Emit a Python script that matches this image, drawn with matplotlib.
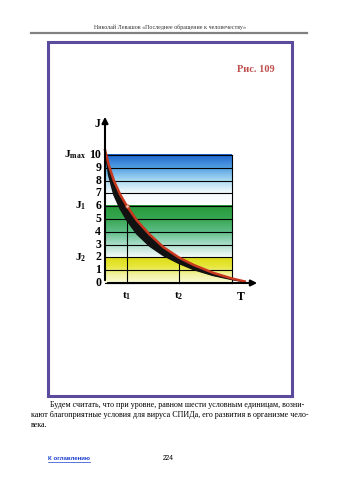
import numpy as np
import matplotlib.pyplot as plt
from matplotlib.patches import Rectangle
from matplotlib.lines import Line2D
from matplotlib.colors import LinearSegmentedColormap

plt.rcParams['mathtext.fontset'] = 'custom'
plt.rcParams['mathtext.rm'] = 'Liberation Serif'
plt.rcParams['mathtext.bf'] = 'Liberation Serif:bold'

# levels on the J axis
levels = list(range(0, 11))
t1, t2 = 1.73, 5.8
J1, J2 = 6, 2

# curve (upper red edge and lower black edge)
curve_x = [0.0, 0.3, 0.7, 1.2, 1.73, 2.5, 3.5, 4.6, 5.8, 7.0, 8.5, 10.0, 11.0]
curve_red = [10.4, 9.2, 8.0, 6.9, 6.0, 4.9, 3.8, 2.8, 2.0, 1.4, 0.8, 0.35, 0.12]
curve_blk = [10.4, 8.4, 6.9, 5.8, 4.9, 3.85, 2.9, 2.15, 1.55, 1.05, 0.6, 0.28, 0.1]

# colour bands: (bottom, top, colours from bottom to top)
bands = [
    (6, 10, ['#ffffff', '#f4fafd', '#a8d8f0', '#4f9ee2', '#1d62cc']),
    (2, 6, ['#f4faf8', '#a8dcc8', '#5cbc84', '#35a550', '#2a9a3c']),
    (0, 2, ['#fbfbd8', '#f2f2a0', '#e6e636', '#dcdc18']),
]

W, H = 339, 480
fig = plt.figure(figsize=(W / 100, H / 100), dpi=100)
fig.patch.set_facecolor('white')


def fx(px):
    return px / W


def fy(py):
    return 1 - py / H


serif = 'Liberation Serif'

# page header
fig.text(fx(170), fy(27), 'Николай Левашов «Последнее обращение к человечеству»',
         ha='center', va='center', fontsize=4.3, family=serif, color='#333333')
fig.add_artist(Line2D([fx(31), fx(307)], [fy(33), fy(33)], color='#808080', lw=1.6))

# purple frame
fig.add_artist(Rectangle((fx(48), fy(396)), fx(292) - fx(48), fy(42) - fy(396),
                         transform=fig.transFigure, fill=False,
                         edgecolor='#5c4b9c', lw=2.2))
fig.text(fx(275), fy(70), 'Рис. 109', ha='right', va='center', fontsize=7.5,
         family=serif, weight='bold', color='#c0504d')

# chart axes: x_px = 105 + 12.7*x, y_px = 283 - 12.8*y
x0, y0, sx, sy = 105, 283, 12.7, 12.8
xl, yl = (-4.5, 12.5), (-1.5, 13.5)
left = fx(x0 + sx * xl[0])
bottom = fy(y0 - sy * yl[0])
ax = fig.add_axes([left, bottom, fx(sx * (xl[1] - xl[0])), (sy * (yl[1] - yl[0])) / H])
ax.set_xlim(*xl)
ax.set_ylim(*yl)
ax.axis('off')

for lo, hi, cols in bands:
    cmap = LinearSegmentedColormap.from_list('b', cols)
    grad = np.linspace(0, 1, 200).reshape(-1, 1)
    ax.imshow(grad, cmap=cmap, extent=(0, 10, lo, hi), origin='lower',
              aspect='auto', zorder=0)

for lv in levels:
    ax.plot([0, 10], [lv, lv], color='black', lw=0.8, zorder=1)
    ax.text(-0.3, lv, str(lv), ha='right', va='center', fontsize=8.5,
            family=serif, weight='bold')
ax.plot([10, 10], [0, 10], color='black', lw=0.8, zorder=1)
ax.plot([t1, t1], [0, J1], color='black', lw=0.8, zorder=1)
ax.plot([t2, t2], [0, J2], color='black', lw=0.8, zorder=1)

# curve
ax.fill_between(curve_x, curve_blk, curve_red, color='#111111', zorder=3, lw=0)
ax.plot(curve_x, curve_blk, color='#111111', lw=1.2, zorder=3)
ax.plot(curve_x, curve_red, color='#c8381e', lw=1.8, zorder=4)
ax.plot([t1], [J1], 'o', ms=2.5, mfc='#f0c0b0', mec='#c8381e', mew=0.5, zorder=5)

# axes arrows
arrow = dict(arrowstyle='-|>', lw=1.5, color='black', mutation_scale=9)
ax.annotate('', xy=(0, 13.2), xytext=(0, 0), arrowprops=arrow, zorder=6)
ax.annotate('', xy=(12.2, 0), xytext=(0, 0), arrowprops=arrow, zorder=6)

# axis labels
ax.text(-0.6, 12.4, 'J', ha='center', va='center', fontsize=8.5, family=serif, weight='bold')
ax.text(-1.5, 10, r'$\mathbf{J_{max}}$', ha='right', va='center', fontsize=8)
ax.text(-1.5, J1, r'$\mathbf{J_{1}}$', ha='right', va='center', fontsize=8)
ax.text(-1.5, J2, r'$\mathbf{J_{2}}$', ha='right', va='center', fontsize=8)
ax.text(t1, -0.6, r'$\mathbf{t_{1}}$', ha='center', va='top', fontsize=8)
ax.text(t2, -0.6, r'$\mathbf{t_{2}}$', ha='center', va='top', fontsize=8)
ax.text(10.7, -0.6, 'T', ha='center', va='top', fontsize=8.5, family=serif, weight='bold')

# body text under the figure
body = [
    (50, 'Будем считать, что при уровне, равном шести условным единицам, возни-'),
    (31, 'кают благоприятные условия для вируса СПИДа, его развития в организме чело-'),
    (31, 'века.'),
]
for i, (px, line) in enumerate(body):
    fig.text(fx(px), fy(405 + i * 10), line, ha='left', va='center',
             fontsize=5.75, family=serif)

fig.text(fx(48), fy(459), 'К оглавлению', ha='left', va='center', fontsize=4.4,
         family='Liberation Sans', weight='bold', color='#1a3fd0')
fig.add_artist(Line2D([fx(48), fx(90)], [fy(462), fy(462)], color='#1a3fd0', lw=0.5))
fig.text(fx(168), fy(458), '224', ha='center', va='center', fontsize=4.8,
         family='Liberation Sans')

fig.savefig('out.png', dpi=100)
